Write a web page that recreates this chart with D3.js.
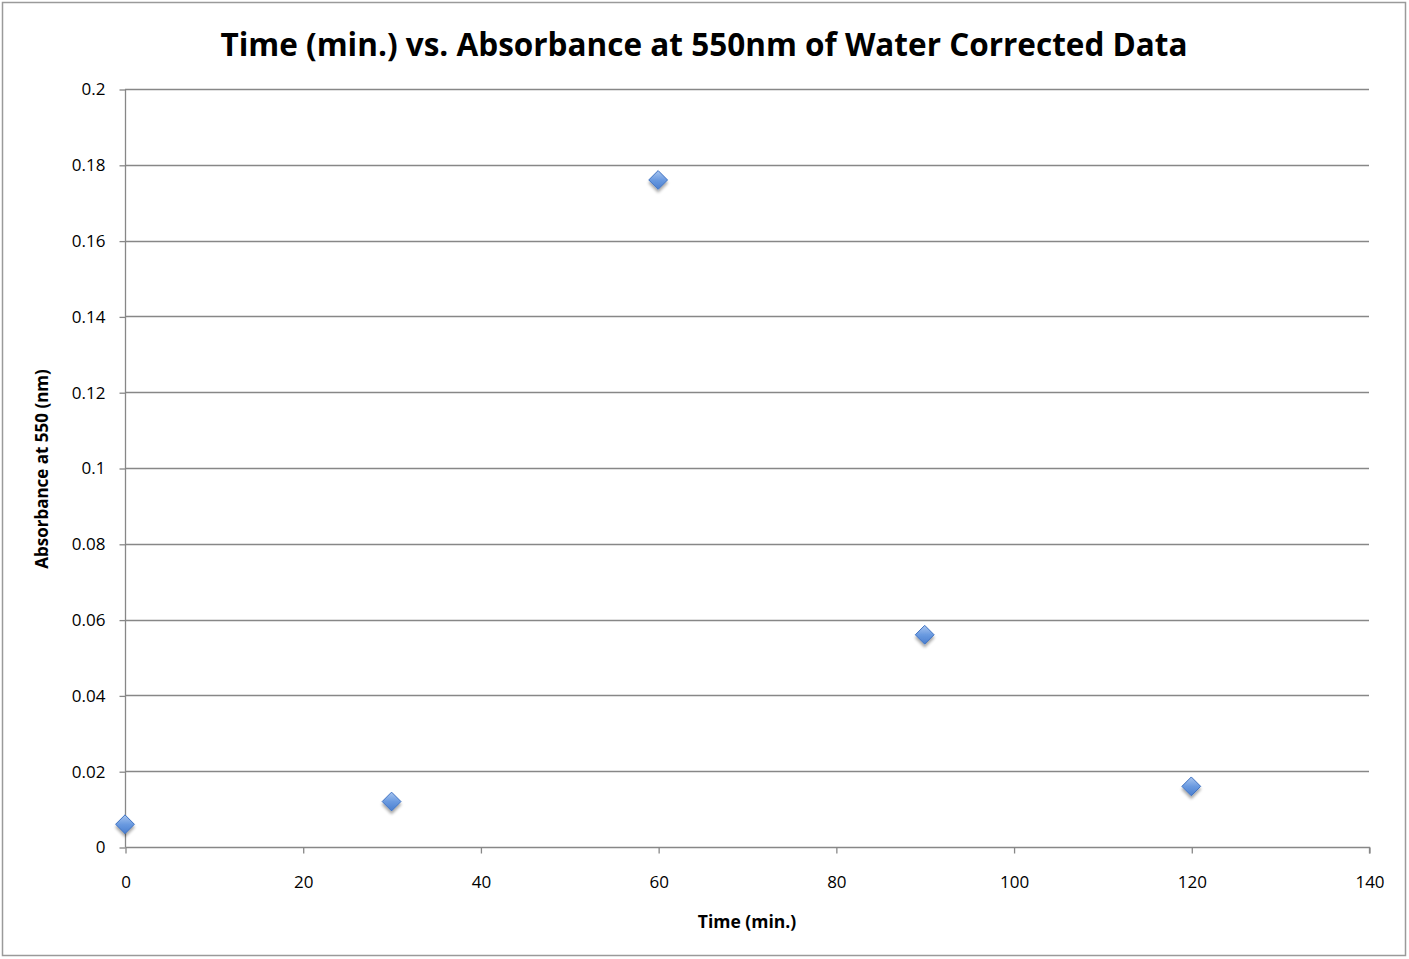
<!DOCTYPE html>
<html><head><meta charset="utf-8">
<script src="https://cdn.jsdelivr.net/npm/d3@7"></script>
<style>body{margin:0;background:#fff;} text{font-family:"Open Sans","Lato",sans-serif;}</style>
</head><body>
<svg id="c" width="1409" height="959"></svg>
<script>
const times = [0, 30, 60, 90, 120];
const absorbance = [0.006, 0.012, 0.176, 0.056, 0.016];
const xTicks = [0, 20, 40, 60, 80, 100, 120, 140];
const yTicks = [0, 0.02, 0.04, 0.06, 0.08, 0.1, 0.12, 0.14, 0.16, 0.18, 0.2];
const titleText = "Time (min.) vs. Absorbance at 550nm of Water Corrected Data";
const xLabel = "Time (min.)";
const yLabel = "Absorbance at 550 (nm)";

const svg = d3.select("#c");
svg.append("rect").attr("x",2.5).attr("y",2.5).attr("width",1403).attr("height",953)
  .attr("fill","#fff").attr("stroke","#9a9a9a").attr("stroke-width",1.5);

const x = d3.scaleLinear().domain([0,140]).range([125,1369]);
const y = d3.scaleLinear().domain([0,0.2]).range([847,89]);

const defs = svg.append("defs");
const g = defs.append("linearGradient").attr("id","mg").attr("x1",0).attr("y1",0).attr("x2",0).attr("y2",1);
g.append("stop").attr("offset","0%").attr("stop-color","#a9c6f0");
g.append("stop").attr("offset","50%").attr("stop-color","#6a9ae0");
g.append("stop").attr("offset","100%").attr("stop-color","#4a7fd0");
const f = defs.append("filter").attr("id","sh").attr("x","-50%").attr("y","-50%").attr("width","200%").attr("height","200%");
f.append("feGaussianBlur").attr("in","SourceAlpha").attr("stdDeviation",1.8);
f.append("feOffset").attr("dx",0).attr("dy",3).attr("result","b");
f.append("feComponentTransfer").append("feFuncA").attr("type","linear").attr("slope",0.35);
const m = f.append("feMerge"); m.append("feMergeNode"); m.append("feMergeNode").attr("in","SourceGraphic");

// gridlines
svg.append("g").selectAll("line").data(yTicks.filter(d=>d>0)).join("line")
  .attr("x1",125).attr("x2",1369).attr("y1",d=>Math.round(y(d))+0.5).attr("y2",d=>Math.round(y(d))+0.5)
  .attr("stroke","#878787").attr("stroke-width",1.3);

// axes
const yAxis = d3.axisLeft(y).tickValues(yTicks).tickSize(6).tickPadding(12).tickFormat(d=>String(+d.toFixed(2)));
const ya = svg.append("g").attr("transform","translate(125.5,0.5)").call(yAxis);
const xAxis = d3.axisBottom(x).tickValues(xTicks).tickSize(6).tickPadding(22).tickFormat(d=>d);
const xa = svg.append("g").attr("transform","translate(0.5,847.5)").call(xAxis);
[ya,xa].forEach(a=>{
  a.select(".domain").attr("stroke","#878787").attr("stroke-width",1.3);
  a.selectAll(".tick line").attr("stroke","#878787").attr("stroke-width",1.3);
  a.selectAll("text").attr("font-size",17).attr("fill","#000").style("font-family","'Open Sans',sans-serif");
});
ya.selectAll("text").attr("dx",-2);
ya.select(".domain").attr("d","M0,847V89");
xa.select(".domain").attr("d","M125,0H1369V6");

// markers
svg.append("g").selectAll("path").data(times.map((t,i)=>[t,absorbance[i]])).join("path")
  .attr("d", d3.symbol().type(d3.symbolDiamond2).size(225))
  .attr("transform", d=>`translate(${x(d[0])},${y(d[1])})`)
  .attr("fill","url(#mg)").attr("stroke","#3f72c2").attr("stroke-width",1)
  .attr("filter","url(#sh)");

svg.append("text").attr("x",704).attr("y",56).attr("text-anchor","middle")
  .attr("font-size",31.5).attr("font-weight","bold").text(titleText);
svg.append("text").attr("x",747).attr("y",928).attr("text-anchor","middle")
  .attr("font-size",17.5).attr("font-weight","bold").text(xLabel);
svg.append("text").attr("transform","translate(48,469) rotate(-90)").attr("text-anchor","middle")
  .attr("font-size",17).attr("font-weight","bold").text(yLabel);
</script>
</body></html>
